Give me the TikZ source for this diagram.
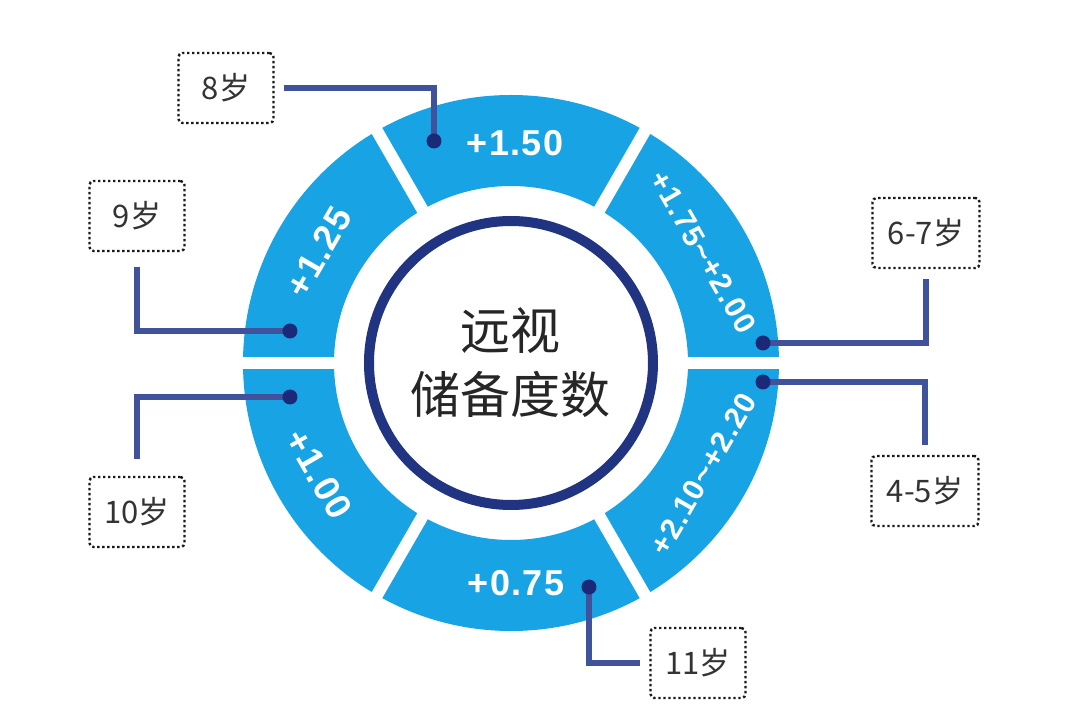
\documentclass[tikz,border=0pt]{standalone}
\usepackage{fontspec}
\setmainfont{Noto Sans CJK SC}
\newfontfamily\numfont[LetterSpace=4]{Liberation Sans}
\definecolor{ringblue}{RGB}{24,164,228}
\definecolor{rimnavy}{RGB}{32,52,130}
\definecolor{linkblue}{RGB}{64,82,155}
\definecolor{dotnavy}{RGB}{26,42,120}
\tikzset{
  every picture/.style={line join=miter},
  seglabel/.style={text=white, font=\numfont\bfseries\fontsize{36}{40}\selectfont},
  rangelabel/.style={text=white, font=\numfont\bfseries\fontsize{30}{36}\selectfont},
  agebox/.style={draw=black!90, line width=2.4pt, dash pattern=on 2.4pt off 2.6pt,
    rounded corners=4pt, minimum width=95pt, minimum height=70pt, inner sep=0pt,
    text=black!80, font=\fontsize{31}{36}\selectfont},
  widebox/.style={agebox, minimum width=107pt},
  link/.style={draw=linkblue, line width=6pt},
  dot/.style={circle, fill=dotnavy, inner sep=0pt, minimum size=15pt},
  gap/.style={white, line width=12pt},
}

\begin{document}
\begin{tikzpicture}[x=1pt,y=1pt]
\fill[white] (-511,-365) rectangle (569,363);
\useasboundingbox (-511,-365) rectangle (569,363);
% ring
\fill[ringblue, even odd rule] (0,0) circle (268) (0,0) circle (177);
\draw[gap] (0:170) -- (0:276);
\draw[gap] (60:170) -- (60:276);
\draw[gap] (120:170) -- (120:276);
\draw[gap] (180:170) -- (180:276);
\draw[gap] (240:170) -- (240:276);
\draw[gap] (300:170) -- (300:276);
\draw[rimnavy, line width=10pt] (0,0) circle (142);
\node[align=center, text=black!85, font=\fontsize{50}{64}\selectfont] (title) at (0,0) {远视\\储备度数};
% segment values
\node[seglabel] (s90) at (4,220) {+1.50};
\node[seglabel] (s270) at (5,-220) {+0.75};
\node[seglabel, rotate=60] (s150) at (150:222) {+1.25};
\node[seglabel, rotate=-60] (s210) at (210:222) {+1.00};
\node[rangelabel, rotate=-60] (s30) at (30:222) {+1.75\textasciitilde+2.00};
\node[rangelabel, rotate=60] (s330) at (330:222) {+2.10\textasciitilde+2.20};
% ages
\node[agebox] (b8) at (-285,275) {8岁};
\node[agebox] (b9) at (-374,147) {9岁};
\node[agebox] (b10) at (-374,-149) {10岁};
\node[agebox] (b11) at (187,-300) {11岁};
\node[widebox] (b67) at (415,130) {6-7岁};
\node[widebox] (b45) at (414,-128) {4-5岁};
\coordinate (p8) at (-77,222);
\coordinate (p9) at (-221,32);
\coordinate (p10) at (-221,-34);
\coordinate (p11) at (78,-224);
\coordinate (p67) at (252,20);
\coordinate (p45) at (252,-19);
\draw[link] ([xshift=9pt]b8.east) -| (p8);
\draw[link] ([yshift=-15pt]b9.south) |- (p9);
\draw[link] ([yshift=17pt]b10.north) |- (p10);
\draw[link] (p11) |- ([xshift=-9pt]b11.west);
\draw[link] ([yshift=-10pt]b67.south) |- (p67);
\draw[link] (p45) -| ([yshift=10pt]b45.north);
\node[dot] (d8) at (p8) {};
\node[dot] (d9) at (p9) {};
\node[dot] (d10) at (p10) {};
\node[dot] (d11) at (p11) {};
\node[dot] (d67) at (p67) {};
\node[dot] (d45) at (p45) {};
\end{tikzpicture}
\end{document}
